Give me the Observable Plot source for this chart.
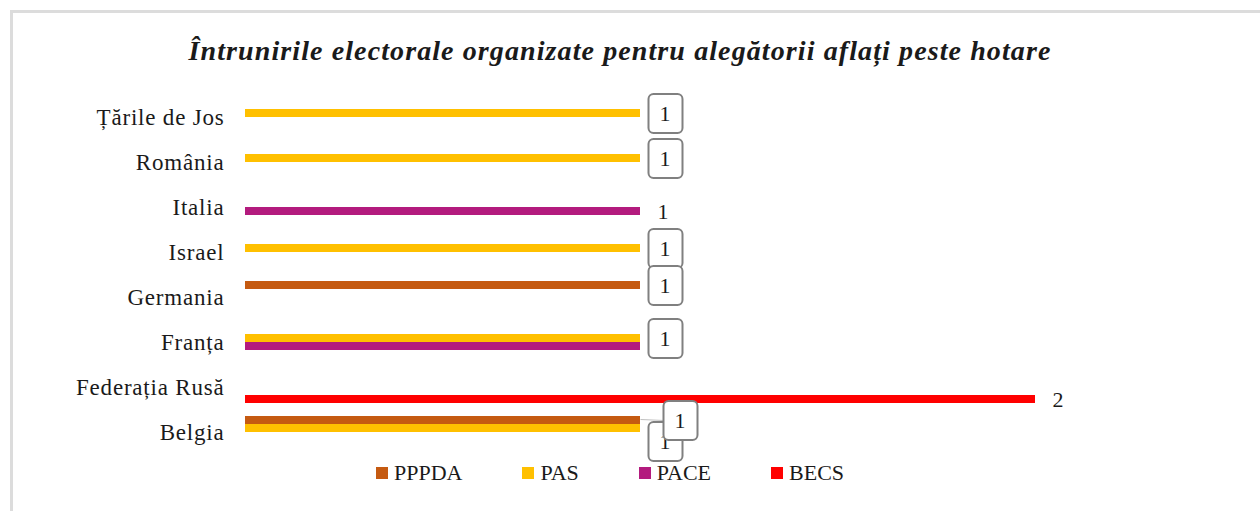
<!DOCTYPE html>
<html>
<head>
<meta charset="utf-8">
<script src="https://cdn.jsdelivr.net/npm/d3@7"></script>
<script src="https://cdn.jsdelivr.net/npm/@observablehq/plot@0.6"></script>
<style>
  html, body { margin: 0; padding: 0; background: #fff; overflow: hidden; }
  #page { position: relative; width: 1260px; height: 511px; overflow: hidden; font-family: 'Liberation Serif', serif; color: #1a1a1a; }
  #frame { position: absolute; left: 10px; top: 10px; width: 1400px; height: 700px; border-left: 3px solid #dcdcdc; border-top: 3px solid #dcdcdc; }
  #title { position: absolute; left: 0; top: 34px; width: 1240px; text-align: center; font-size: 28px; letter-spacing: 1.1px; font-weight: bold; font-style: italic; line-height: 34px; }
  #chart { position: absolute; left: 0; top: 0; }
  #legend { position: absolute; left: 376px; top: 459px; display: flex; align-items: center; font-size: 22px; line-height: 28px; }
  .item { display: flex; align-items: center; margin-right: 60px; }
  .sw { width: 12px; height: 12px; margin-right: 6px; }
</style>
</head>
<body>
<div id="page">
  <div id="frame"></div>
  <div id="title">Întrunirile electorale organizate pentru alegătorii aflați peste hotare</div>
  <div id="chart"></div>
  <div id="legend"></div>
</div>
<script>
// Categories (top to bottom) and series
const countries = ["Țările de Jos", "România", "Italia", "Israel", "Germania", "Franța", "Federația Rusă", "Belgia"];
const series = ["PPPDA", "PAS", "PACE", "BECS"];
const colors = ["#C55A11", "#FFC000", "#B31B7E", "#FF0000"];
// Values per series aligned with countries (null = no meeting)
const PPPDA = [null, null, null, null, 1, null, null, 1];
const PAS   = [1, 1, null, 1, null, 1, null, 1];
const PACE  = [null, null, 1, null, null, 1, null, null];
const BECS  = [null, null, null, null, null, null, 2, null];

const seriesValues = [PPPDA, PAS, PACE, BECS];
const rows = [];
series.forEach((s, i) => seriesValues[i].forEach((v, j) => {
  if (v != null) rows.push({country: countries[j], series: s, value: v});
}));

const boxed = d => d.series === "PPPDA" || d.series === "PAS";
const isBelgia = d => d.country === "Belgia";
// the PACE label for Franța is hidden behind the PAS label box in the original
const plain = rows.filter(d => !boxed(d) && !(d.country === "Franța" && d.series === "PACE"));
const boxedNormal = rows.filter(d => boxed(d) && !isBelgia(d));
const belPAS = rows.filter(d => isBelgia(d) && d.series === "PAS");
const belPPPDA = rows.filter(d => isBelgia(d) && d.series === "PPPDA");

const roundBox = {
  draw(ctx) {
    const w = 34, h = 39, r = 5;
    const x0 = -w / 2, x1 = w / 2, y0 = -h / 2, y1 = h / 2;
    ctx.moveTo(x0 + r, y0);
    ctx.lineTo(x1 - r, y0);
    ctx.arcTo(x1, y0, x1, y0 + r, r);
    ctx.lineTo(x1, y1 - r);
    ctx.arcTo(x1, y1, x1 - r, y1, r);
    ctx.lineTo(x0 + r, y1);
    ctx.arcTo(x0, y1, x0, y1 - r, r);
    ctx.lineTo(x0, y0 + r);
    ctx.arcTo(x0, y0, x0 + r, y0, r);
    ctx.closePath();
  }
};
const leader = {
  draw(ctx) { ctx.moveTo(-40, -1); ctx.lineTo(-16, 0); }
};

const base = {x: "value", y: "series", fy: "country"};
const label = d => String(d.value);
function boxMarks(data, dx, dy) {
  return [
    Plot.dot(data, {...base, symbol: roundBox, fill: "white", stroke: "#808080", strokeWidth: 2, dx, dy}),
    Plot.text(data, {...base, text: label, dx, dy, fontSize: 22, fill: "#1a1a1a"})
  ];
}

const chart = Plot.plot({
  width: 1260,
  height: 462,
  marginLeft: 245,
  marginRight: 225,
  marginTop: 101,
  marginBottom: 14,
  style: {fontFamily: "'Liberation Serif', serif", fontSize: "23px", letterSpacing: "0.8px", color: "#1a1a1a", background: "transparent"},
  x: {domain: [0, 2], axis: null},
  y: {domain: series, padding: 0, round: false, axis: null},
  fy: {domain: countries, padding: 13 / 45, round: false, axis: "left", tickSize: 0, tickPadding: 21, label: null},
  color: {domain: series, range: colors},
  marks: [
    Plot.barX(rows, {...base, fill: "series"}),
    Plot.text(plain, {...base, text: label, textAnchor: "start", dx: 17, fontSize: 22, fill: "#1a1a1a"}),
    Plot.dot(belPPPDA, {...base, symbol: leader, fill: "none", stroke: "#bfbfbf", strokeWidth: 1.2, dx: 40}),
    ...boxMarks(boxedNormal, 25, 0),
    ...boxMarks(belPAS, 25, 13),
    ...boxMarks(belPPPDA, 40, 0)
  ]
});
document.getElementById("chart").appendChild(chart);

const legend = document.getElementById("legend");
series.forEach((s, i) => {
  const item = document.createElement("div");
  item.className = "item";
  const sw = document.createElement("span");
  sw.className = "sw";
  sw.style.background = colors[i];
  const t = document.createElement("span");
  t.textContent = s;
  item.appendChild(sw);
  item.appendChild(t);
  legend.appendChild(item);
});
</script>
</body>
</html>
